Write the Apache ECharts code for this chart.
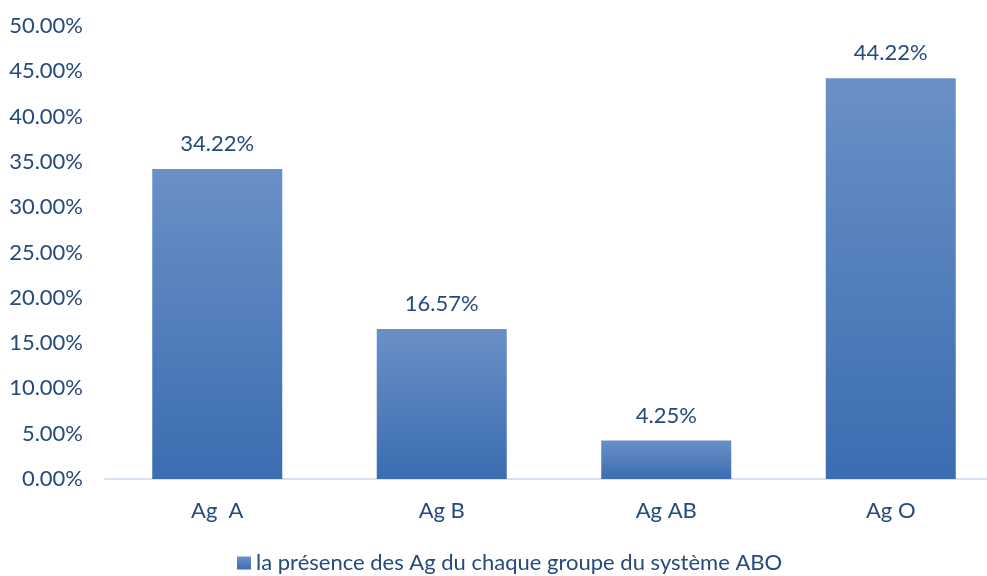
<!DOCTYPE html>
<html>
<head>
<meta charset="utf-8">
<script src="https://cdn.jsdelivr.net/npm/echarts@6/dist/echarts.min.js"></script>
<style>html,body{margin:0;padding:0;background:#fff;overflow:hidden;width:987px;height:576px}#c{width:1003px;height:576px}</style>
</head>
<body>
<div id="c"></div>
<script>
const categories = ['Ag  A', 'Ag B', 'Ag AB', 'Ag O'];
const values = [34.22, 16.57, 4.25, 44.22];
const seriesName = 'la présence des Ag du chaque groupe du système ABO';
const yTicks = { min: 0, max: 50, interval: 5 };

const textColor = '#264a7c';
const font = 'Lato, "Open Sans", sans-serif';
const chart = echarts.init(document.getElementById('c'));
chart.setOption({
  animation: false,
  grid: { left: 105, right: 0, top: 26, bottom: 97, containLabel: false },
  legend: {
    left: 237, top: 552, padding: 0,
    itemWidth: 14, itemHeight: 13, itemGap: 5,
    icon: 'rect',
    textStyle: { color: textColor, fontSize: 22, fontFamily: font }
  },
  xAxis: {
    type: 'category', data: categories,
    axisLine: { lineStyle: { color: '#d5e2f1', width: 2 } },
    axisTick: { show: false },
    axisLabel: { color: textColor, fontSize: 22, fontFamily: font, margin: 21 }
  },
  yAxis: {
    type: 'value', min: yTicks.min, max: yTicks.max, interval: yTicks.interval,
    splitLine: { show: false },
    axisLine: { show: false }, axisTick: { show: false },
    axisLabel: { color: textColor, fontSize: 22, fontFamily: font, margin: 22,
      formatter: v => v.toFixed(2) + '%' }
  },
  series: [{
    name: seriesName, type: 'bar', data: values, barWidth: 130,
    itemStyle: {
      color: new echarts.graphic.LinearGradient(0, 0, 0, 1, [
        { offset: 0, color: '#6a90c7' }, { offset: 1, color: '#3b6db1' }
      ])
    },
    label: { show: true, position: 'top', distance: 14, color: textColor,
      fontSize: 22, fontFamily: font, formatter: p => p.value.toFixed(2) + '%' }
  }]
});
</script>
</body>
</html>
